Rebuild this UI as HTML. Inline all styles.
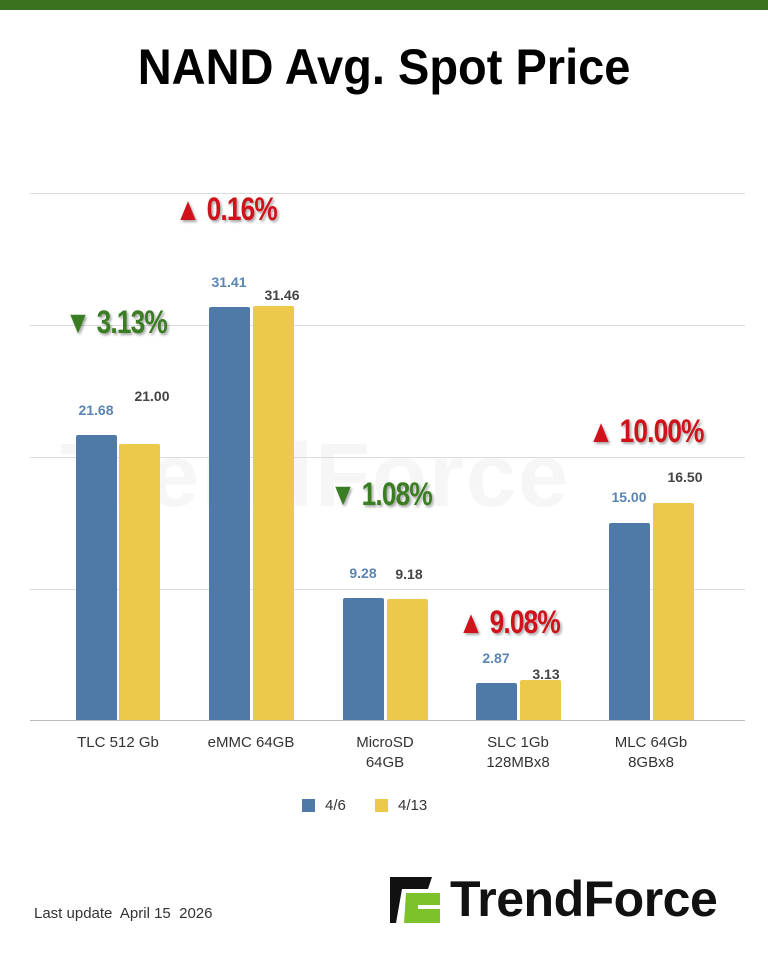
<!DOCTYPE html>
<html><head><style>
body{margin:0;width:768px;height:960px;background:#fff;position:relative;overflow:hidden;font-family:"Liberation Sans",sans-serif}
.a{position:absolute}
.g{position:absolute;left:30px;width:715px;height:1px;background:#dcdcdc}
.b{position:absolute;width:41px;border-radius:2px 2px 0 0}
.bl{background:#4f79a7}.yl{background:#ecc94b}
.v{position:absolute;font-size:14px;font-weight:bold;width:60px;text-align:center}
.vb{color:#5a84b2}.vy{color:#444}
.p{position:absolute;font-size:32px;font-weight:bold;transform:scaleX(0.82);transform-origin:left top;white-space:nowrap;text-shadow:2px 2px 3px rgba(0,0,0,.35);letter-spacing:-1px}
.r{color:#d0121b}.gr{color:#3b7d23}
.x{position:absolute;font-size:15px;color:#333;text-align:center;width:130px;line-height:20px}
</style></head><body>
<div class="a" style="left:0;top:0;width:768px;height:10px;background:#3a7220"></div>
<div class="a" style="left:0;top:38px;width:768px;text-align:center;"><span style="display:inline-block;font-size:50px;font-weight:bold;color:#000;transform:scaleX(0.94)">NAND Avg. Spot Price</span></div>
<div class="a" style="left:60px;top:425px;font-size:90px;font-weight:bold;color:#f6f6f6;letter-spacing:2px">TrendForce</div>
<div class="g" style="top:193px"></div><div class="g" style="top:325px"></div><div class="g" style="top:457px"></div><div class="g" style="top:589px"></div><div class="g" style="top:720px;background:#bbb"></div>

<div class="b bl" style="left:76px;top:435px;height:285px"></div><div class="b yl" style="left:119px;top:444px;height:276px"></div>
<div class="b bl" style="left:209px;top:307px;height:413px"></div><div class="b yl" style="left:253px;top:306px;height:414px"></div>
<div class="b bl" style="left:343px;top:598px;height:122px"></div><div class="b yl" style="left:387px;top:599px;height:121px"></div>
<div class="b bl" style="left:476px;top:683px;height:37px"></div><div class="b yl" style="left:520px;top:680px;height:40px"></div>
<div class="b bl" style="left:609px;top:523px;height:197px"></div><div class="b yl" style="left:653px;top:503px;height:217px"></div>

<div class="v vb" style="left:66px;top:402px">21.68</div><div class="v vy" style="left:122px;top:388px">21.00</div>
<div class="v vb" style="left:199px;top:274px">31.41</div><div class="v vy" style="left:252px;top:287px">31.46</div>
<div class="v vb" style="left:333px;top:565px">9.28</div><div class="v vy" style="left:379px;top:566px">9.18</div>
<div class="v vb" style="left:466px;top:650px">2.87</div><div class="v vy" style="left:516px;top:666px">3.13</div>
<div class="v vb" style="left:599px;top:489px">15.00</div><div class="v vy" style="left:655px;top:469px">16.50</div>

<div class="p r" style="left:175px;top:191px">▲ 0.16%</div>
<div class="p gr" style="left:65px;top:304px">▼ 3.13%</div>
<div class="p gr" style="left:330px;top:476px">▼ 1.08%</div>
<div class="p r" style="left:458px;top:604px">▲ 9.08%</div>
<div class="p r" style="left:588px;top:413px">▲ 10.00%</div>

<div class="x" style="left:53px;top:733px">TLC 512 Gb</div>
<div class="x" style="left:186px;top:733px">eMMC 64GB</div>
<div class="x" style="left:320px;top:733px">MicroSD<br>64GB</div>
<div class="x" style="left:453px;top:733px">SLC 1Gb<br>128MBx8</div>
<div class="x" style="left:586px;top:733px">MLC 64Gb<br>8GBx8</div>

<div class="a" style="left:302px;top:799px;width:13px;height:13px;background:#4f79a7"></div>
<div class="a" style="left:325px;top:797px;font-size:15px;color:#333">4/6</div>
<div class="a" style="left:375px;top:799px;width:13px;height:13px;background:#ecc94b"></div>
<div class="a" style="left:398px;top:797px;font-size:15px;color:#333">4/13</div>

<div class="a" style="left:34px;top:905px;font-size:15px;color:#333">Last update&nbsp; April 15&nbsp; 2026</div>
<svg class="a" style="left:388px;top:875px" width="56" height="50" viewBox="0 0 56 50">
<polygon points="2,2 44,2 40,14 14,14 8,48 2,48" fill="#111"/>
<polygon points="18,18 52,18 52,30 30,30 30,34 52,34 52,48 16,48" fill="#7cc22b"/>
</svg>
<div class="a" style="left:450px;top:870px;font-size:50px;font-weight:bold;color:#111;letter-spacing:-0.5px">TrendForce</div>
</body></html>
